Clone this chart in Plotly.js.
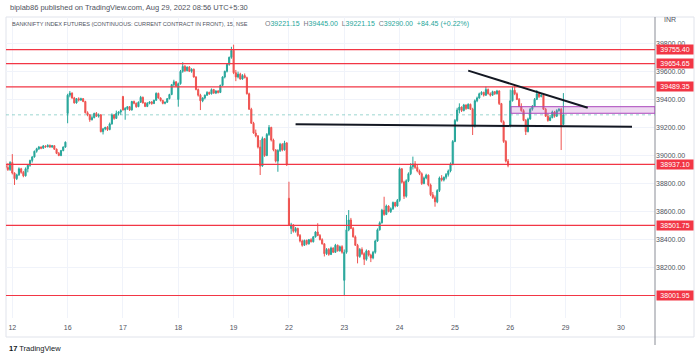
<!DOCTYPE html>
<html>
<head>
<meta charset="utf-8">
<script src="https://cdn.plot.ly/plotly-3.0.1.min.js"></script>
<style>html,body{margin:0;padding:0;background:#fff;}#chart{width:700px;height:356px;}</style>
</head>
<body>
<div id="chart"></div>
<script>
// ---- data: BANKNIFTY futures, 15-minute bars (first bar = index -3, last 3 bars of Aug 11) ----
const firstBarIndex = -3;
const open = [
38930,38915,38900,
38950,38875,38835,38862,38905,38880,38855,38905,38930,38965,38990,39030,39048,39060,39052,39068,39062,39072,39060,39070,39045,39015,39000,39035,39060,
39300,39430,39445,39410,39375,39405,39395,39405,39385,39305,39290,39255,39270,39300,39280,39290,39170,39190,39200,39185,39225,39290,39265,39300,39310,
39420,39325,39335,39348,39325,39385,39372,39348,39380,39415,39375,39350,39372,39382,39370,39394,39443,39410,39392,39372,39380,39405,39435,39505,39525,
39400,39512,39600,39635,39605,39630,39600,39615,39560,39470,39430,39390,39410,39430,39450,39440,39470,39445,39460,39450,39500,39560,39600,39650,39700,
39750,39590,39560,39580,39545,39570,39555,39440,39330,39230,39160,39140,39060,38925,39120,39000,39150,39200,39110,39040,38960,39035,39080,39040,39090,
38695,38480,38505,38460,38480,38430,38390,38360,38395,38370,38400,38385,38420,38455,38430,38400,38370,38300,38330,38295,38340,38310,38360,38320,38350,
38110,38310,38470,38540,38480,38420,38360,38280,38330,38300,38260,38320,38290,38270,38310,38390,38470,38520,38610,38580,38640,38600,38620,38665,38640,
38680,38905,38810,38710,38820,38870,38920,38940,38915,38890,38870,38800,38840,38860,38790,38720,38700,38670,38750,38840,38825,38845,38865,38890,38940,
39100,39250,39325,39345,39320,39360,39335,39365,39330,39210,39390,39410,39440,39450,39430,39470,39440,39430,39455,39440,39460,39370,39240,39100,38960,
39210,39390,39465,39440,39400,39350,39320,39250,39170,39260,39330,39350,39400,39440,39420,39430,39330,39280,39250,39270,39310,39280,39320,39330,39221.15
];
const high = [
38960,38945,38960,
39010,38880,38870,38915,38912,38890,38915,38935,38970,38995,39035,39055,39068,39065,39075,39072,39080,39078,39075,39072,39050,39025,39040,39065,39100,
39440,39460,39450,39418,39410,39415,39412,39410,39390,39315,39295,39285,39305,39310,39300,39295,39195,39205,39210,39235,39300,39295,39320,39315,39330,
39425,39345,39350,39352,39390,39392,39378,39385,39425,39420,39380,39380,39386,39388,39398,39450,39448,39415,39398,39384,39410,39440,39510,39540,39530,
39520,39610,39665,39645,39635,39638,39622,39620,39565,39478,39440,39415,39435,39458,39455,39478,39475,39465,39466,39505,39565,39605,39655,39705,39775,
39790,39610,39598,39590,39580,39585,39562,39448,39340,39240,39185,39145,39110,39135,39125,39160,39217,39205,39120,39045,39045,39090,39088,39105,39095,
38813,38520,38510,38490,38485,38440,38400,38400,38400,38405,38410,38425,38460,38517,38440,38410,38375,38340,38340,38350,38345,38370,38365,38358,38360,
38330,38576,38611,38555,38490,38430,38370,38340,38345,38310,38330,38325,38300,38320,38400,38480,38530,38620,38706,38650,38645,38630,38672,38670,38690,
38915,38910,38820,38830,38880,38945,38992,38960,38935,38900,38880,38850,38870,38865,38800,38740,38715,38760,38850,38860,38850,38875,38900,38950,39110,
39260,39340,39372,39350,39368,39365,39372,39370,39340,39400,39420,39448,39458,39455,39491,39478,39450,39462,39460,39468,39465,39375,39250,39110,38975,
39470,39490,39503,39450,39410,39372,39330,39260,39270,39340,39360,39410,39467,39450,39445,39435,39340,39300,39290,39320,39318,39330,39338,39340,39445.00
];
const low = [
38900,38890,38890,
38865,38790,38825,38855,38870,38845,38850,38880,38920,38950,38985,39020,39040,39045,39048,39055,39058,39055,39055,39040,39010,38995,38995,39030,39055,
39230,39415,39405,39370,39370,39385,39390,39380,39300,39280,39240,39250,39265,39275,39270,39165,39150,39180,39175,39180,39220,39255,39260,39285,39290,
39320,39255,39325,39318,39320,39365,39340,39345,39375,39370,39345,39345,39365,39362,39368,39390,39405,39385,39365,39365,39375,39400,39430,39490,39490,
39348,39505,39590,39595,39600,39595,39590,39555,39465,39420,39324,39380,39400,39425,39432,39435,39440,39438,39442,39445,39495,39550,39592,39640,39690,
39580,39530,39550,39540,39540,39550,39435,39325,39225,39155,39130,39050,38861,38920,38990,38995,39140,39100,39030,38950,38884,39025,39030,39035,38925,
38500,38440,38450,38450,38420,38380,38350,38355,38360,38365,38380,38380,38415,38425,38395,38365,38280,38290,38285,38290,38305,38305,38315,38315,38300,
38002,38300,38460,38475,38415,38355,38231,38270,38290,38219,38250,38280,38240,38260,38300,38385,38465,38515,38570,38575,38595,38590,38612,38630,38635,
38670,38800,38690,38700,38810,38860,38900,38905,38880,38860,38790,38795,38830,38780,38710,38690,38635,38660,38740,38815,38815,38830,38850,38880,38930,
39095,39240,39300,39310,39315,39325,39330,39325,39146,39200,39380,39405,39430,39420,39425,39435,39420,39425,39432,39435,39360,39235,39090,38950,38916,
39200,39385,39430,39395,39345,39312,39245,39146,39165,39255,39320,39345,39395,39410,39415,39325,39275,39241,39245,39265,39270,39275,39312,39039,39221.15
];
const close = [
38915,38900,38950,
38875,38835,38862,38905,38880,38855,38905,38930,38965,38990,39030,39048,39060,39052,39068,39062,39072,39060,39070,39045,39015,39000,39035,39060,39095,
39430,39445,39410,39375,39405,39395,39405,39385,39305,39290,39255,39270,39300,39280,39290,39170,39190,39200,39185,39225,39290,39265,39300,39310,39320,
39325,39335,39348,39325,39385,39372,39348,39380,39415,39375,39350,39372,39382,39370,39394,39443,39410,39392,39372,39380,39405,39435,39505,39525,39495,
39512,39600,39635,39605,39630,39600,39615,39560,39470,39430,39390,39410,39430,39450,39440,39470,39445,39460,39450,39500,39560,39600,39650,39700,39750,
39590,39560,39580,39545,39570,39555,39440,39330,39230,39160,39140,39060,38925,39120,39000,39150,39200,39110,39040,38960,39035,39080,39040,39090,38935,
38505,38505,38460,38480,38430,38390,38360,38395,38370,38400,38385,38420,38455,38430,38400,38370,38300,38330,38295,38340,38310,38360,38320,38350,38310,
38310,38470,38540,38480,38420,38360,38280,38330,38300,38260,38320,38290,38270,38310,38390,38470,38520,38610,38580,38640,38600,38620,38665,38640,38680,
38905,38810,38710,38820,38870,38920,38940,38915,38890,38870,38800,38840,38860,38790,38720,38700,38670,38750,38840,38825,38845,38865,38890,38940,39100,
39250,39325,39345,39320,39360,39335,39365,39330,39210,39390,39410,39440,39450,39430,39470,39440,39430,39455,39440,39460,39370,39240,39100,38960,38930,
39390,39465,39440,39400,39350,39320,39250,39170,39260,39330,39350,39400,39440,39420,39430,39330,39280,39250,39270,39310,39280,39320,39330,39205.55,39290.00
];
// session days: label and first bar index
const dayLabels = ['12','16','17','18','19','22','23','24','25','26','29','30'];
const dayFirstBar = [0,25,50,75,100,125,150,175,200,225,250,275];
// price axis ticks (38000 is covered by the 38001.95 level label)
const priceTicks = [38200,38400,38600,38800,39000,39200,39400,39600,39800];
// horizontal levels drawn by the author
const levels = [39755.40,39654.65,39489.35,38937.10,38501.75,38001.95];
// drawings (bar index, price)
const trendDown = [[206,39605],[260,39341]];
const supportLine = [[128,39222],[280,39205]];
const zoneStartBar = 225.3;
const zonePrices = [39301,39348];
const lastPrice = 39290.00;
const legendTitle = 'BANKNIFTY INDEX FUTURES (CONTINUOUS: CURRENT CONTRACT IN FRONT), 15, NSE';
const ohlcLegend = [['O','39221.15'],['H','39445.00'],['L','39221.15'],['C','39290.00']];
const changeText = '+84.45 (+0.22%)';

// ---- build ----
const xs = close.map((_, k) => k + firstBarIndex);
const UP = '#26a69a', DOWN = '#ef5350', RED = '#f23645';
const L = 6, R = 655, T = 17, B = 318, W = 700, H = 356;
const px = p => (p - L) / (R - L);
const py = p => (B - p) / (B - T);

const trace = {
  type: 'candlestick', x: xs, open: open, high: high, low: low, close: close,
  increasing: {line: {color: UP, width: 1}, fillcolor: UP},
  decreasing: {line: {color: DOWN, width: 1}, fillcolor: DOWN},
  whiskerwidth: 0, hoverinfo: 'skip', showlegend: false
};

const shapes = [];
shapes.push({type:'rect', xref:'paper', yref:'paper', x0:px(6), x1:px(694), y0:py(337), y1:py(17), line:{color:'#e0e3eb', width:1}, layer:'below'});
shapes.push({type:'line', xref:'paper', yref:'paper', x0:1, x1:1, y0:py(345), y1:py(17), line:{color:'#8a8d96', width:1}});
levels.forEach(v => shapes.push({type:'line', xref:'paper', yref:'y', x0:0, x1:1, y0:v, y1:v, line:{color:RED, width:1.2}}));
shapes.push({type:'line', xref:'paper', yref:'y', x0:0, x1:1, y0:lastPrice, y1:lastPrice, line:{color:'rgba(38,166,154,0.45)', width:1, dash:'dot'}});
shapes.push({type:'rect', xref:'x', yref:'y', x0:zoneStartBar, x1:290.4, y0:zonePrices[0], y1:zonePrices[1], fillcolor:'rgba(186,104,200,0.25)', line:{color:'#ab47bc', width:1}});
shapes.push({type:'line', xref:'x', yref:'y', x0:trendDown[0][0], y0:trendDown[0][1], x1:trendDown[1][0], y1:trendDown[1][1], line:{color:'#131722', width:2}});
shapes.push({type:'line', xref:'x', yref:'y', x0:supportLine[0][0], y0:supportLine[0][1], x1:supportLine[1][0], y1:supportLine[1][1], line:{color:'#131722', width:2}});

const FONT = 'Liberation Sans, Arial, sans-serif';
const annotations = [];
annotations.push({xref:'paper', yref:'paper', x:px(8), y:py(7.5), xanchor:'left', yanchor:'middle', showarrow:false,
  text:'biplab86 published on TradingView.com, Aug 29, 2022 08:56 UTC+5:30', font:{family:FONT, size:7.5, color:'#50535e'}});
annotations.push({xref:'paper', yref:'paper', x:px(10), y:py(24), xanchor:'left', yanchor:'middle', showarrow:false,
  text:legendTitle, font:{family:FONT, size:5.6, color:'#50535e'}});
let ohlcText = ohlcLegend.map(p => '<span style="color:#787b86">' + p[0] + '</span><span style="color:' + UP + '">' + p[1] + '</span>').join('  ');
ohlcText += '  <span style="color:' + UP + '">' + changeText + '</span>';
annotations.push({xref:'paper', yref:'paper', x:px(263), y:py(24), xanchor:'left', yanchor:'middle', showarrow:false,
  text:ohlcText, font:{family:FONT, size:7, color:UP}});
annotations.push({xref:'paper', yref:'paper', x:px(662), y:py(20), xanchor:'left', yanchor:'middle', showarrow:false,
  text:'INR', font:{family:FONT, size:7, color:'#50535e'}});
annotations.push({xref:'paper', yref:'paper', x:px(7), y:py(348), xanchor:'left', yanchor:'middle', showarrow:false,
  text:'<b>17</b> TradingView', font:{family:FONT, size:7.5, color:'#131722'}});
levels.forEach(v => annotations.push({xref:'paper', yref:'y', x:1, y:v, xanchor:'left', yanchor:'middle', xshift:1, showarrow:false,
  text:v.toFixed(2), bgcolor:RED, width:36, height:9, borderpad:0, font:{family:FONT, size:7, color:'#ffffff'}}));

const layout = {
  width: W, height: H, margin: {l:L, r:W-R, t:T, b:H-B},
  paper_bgcolor:'#ffffff', plot_bgcolor:'#ffffff', showlegend:false, hovermode:false,
  font:{family:FONT, size:7, color:'#50535e'},
  xaxis: {range:[-2.85, 290.4], tickmode:'array', tickvals:dayFirstBar, ticktext:dayLabels, showgrid:true, gridcolor:'#f0f3fa', gridwidth:1,
    zeroline:false, showline:false, ticks:'', ticklabelstandoff:4, rangeslider:{visible:false}, tickfont:{size:7, color:'#50535e'}, fixedrange:true},
  yaxis: {side:'right', range:[37841.4, 39987.5], tickmode:'array', tickvals:priceTicks, tickformat:'.2f', showgrid:true, gridcolor:'#f0f3fa',
    zeroline:false, showline:false, ticks:'', tickfont:{size:7, color:'#50535e'}, fixedrange:true},
  shapes: shapes, annotations: annotations
};
Plotly.newPlot('chart', [trace], layout, {displayModeBar:false, staticPlot:true});
</script>
</body>
</html>
